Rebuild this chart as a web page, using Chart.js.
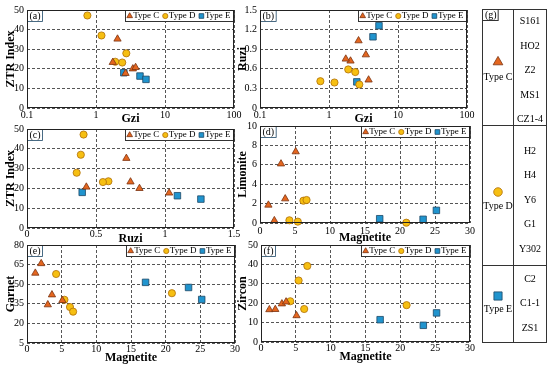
<!DOCTYPE html>
<html>
<head>
<meta charset="utf-8">
<script src="https://cdn.jsdelivr.net/npm/chart.js@4.4.0/dist/chart.umd.min.js"></script>
<style>
    html, body { margin: 0; padding: 0; background: #fff; }
    #wrap { position: relative; width: 550px; height: 366px; overflow: hidden; }
    canvas { position: absolute; }
</style>
</head>
<body>
<div id="wrap">
    <canvas id="pa"></canvas>
    <canvas id="pb"></canvas>
    <canvas id="pc"></canvas>
    <canvas id="pd"></canvas>
    <canvas id="pe"></canvas>
    <canvas id="pf"></canvas>
    <canvas id="pg" width="80" height="366" style="left:470px;top:0px"></canvas>
</div>
<script>
// samples of each type
var samplesC = ["S161", "HO2", "Z2", "MS1", "CZ1-4"];
var samplesD = ["H2", "H4", "Y6", "G1", "Y302"];
var samplesE = ["C2", "C1-1", "ZS1"];

// zircon indices, panels (a)-(c)
var gziC  = [2.05, 1.75, 2.68, 3.42, 3.75];
var ruziC = [0.72, 0.75, 1.03, 0.815, 0.43];
var ztrC  = [35.2, 23.3, 17.7, 20.0, 20.7];
var gziD  = [0.75, 1.2, 2.75, 1.9, 2.4];
var ruziD = [0.41, 0.39, 0.36, 0.59, 0.55];
var ztrD  = [47.2, 37.0, 27.9, 23.6, 23.2];
var gziE  = [2.53, 4.34, 5.3];
var ruziE = [0.40, 1.09, 1.26];
var ztrE  = [18.0, 16.3, 14.6];

// heavy minerals, panels (d)-(f)
var magC = [5.1, 3.0, 3.6, 1.2, 2.05];
var limC = [7.35, 6.1, 2.5, 1.85, 0.25];
var garC = [37.6, 34.3, 41.9, 58.5, 65.8];
var zirC = [13.6, 19.7, 20.7, 16.7, 16.8];
var magD = [4.2, 5.4, 6.2, 6.65, 20.9];
var limD = [0.28, 0.14, 2.3, 2.37, 0.03];
var garD = [57.8, 38.1, 32.5, 29.0, 43.1];
var zirD = [21.0, 31.7, 17.0, 39.2, 19.0];
var magE = [17.1, 23.3, 25.2];
var limE = [0.44, 0.38, 1.3];
var garE = [51.4, 47.5, 38.3];
var zirE = [11.5, 8.6, 15.0];

// tick labels
var gziTicks   = [0.1, 1, 10, 100];
var ztrTicks   = [0, 10, 20, 30, 40, 50];
var ruziTicks  = [0, 0.3, 0.6, 0.9, 1.2, 1.5];
var ruziXTicks = [0, 0.5, 1, 1.5];
var magTicks   = [0, 5, 10, 15, 20, 25, 30];
var limTicks   = [0, 2, 4, 6, 8, 10];
var garTicks   = [5, 20, 35, 50, 65, 80];
var zirTicks   = [0, 10, 20, 30, 40, 50];

var SERIF = "'Liberation Serif', 'Times New Roman', serif";

var typeStyle = {
    "Type C": { shape: "triangle", fill: "#E4661F", edge: "#7A3210", r: 4.2 },
    "Type D": { shape: "circle",   fill: "#F6BF12", edge: "#B06F08", r: 3.6 },
    "Type E": { shape: "rect",     fill: "#2094CE", edge: "#1D4766", r: 4.6 }
};

function drawMark(ctx, name, x, y, r) {
    var st = typeStyle[name];
    ctx.beginPath();
    if (st.shape === "triangle") {
        ctx.moveTo(x, y - r);
        ctx.lineTo(x + r * 0.866, y + r * 0.5);
        ctx.lineTo(x - r * 0.866, y + r * 0.5);
        ctx.closePath();
    } else if (st.shape === "rect") {
        var s = r * Math.SQRT1_2;
        ctx.rect(x - s, y - s, 2 * s, 2 * s);
    } else {
        ctx.arc(x, y, r, 0, Math.PI * 2);
    }
    ctx.fillStyle = st.fill;
    ctx.fill();
    ctx.lineWidth = 0.8;
    ctx.strokeStyle = st.edge;
    ctx.stroke();
}

// frame, panel tag and small legend inside each plot
var panelDecor = {
    id: "panelDecor",
    beforeDatasetsDraw: function (chart, args, opts) {
        var ctx = chart.ctx, a = chart.chartArea;
        ctx.save();
        ctx.font = "9px " + SERIF;
        ctx.textBaseline = "middle";
        ctx.textAlign = "left";
        var names = chart.data.datasets.map(function (d) { return d.label; });
        var bw = 2;
        names.forEach(function (n) { bw += 7 + ctx.measureText(n).width + 2.5; });
        var bh = 11, bx = a.right - bw, by = a.top;
        ctx.fillStyle = "#fff";
        ctx.fillRect(bx, by, bw, bh);
        ctx.strokeStyle = "#333";
        ctx.lineWidth = 1;
        ctx.strokeRect(Math.round(bx) + 0.5, by + 0.5, bw, bh);
        var x = bx + 1;
        names.forEach(function (n) {
            var st = typeStyle[n];
            drawMark(ctx, n, x + 3.5, by + bh / 2 + 0.5, st.shape === "circle" ? 2.6 : 3.3);
            ctx.fillStyle = "#000";
            ctx.fillText(n, x + 7, by + bh / 2 + 0.5);
            x += 7 + ctx.measureText(n).width + 2.5;
        });
        // tag like (a)
        ctx.font = "10px " + SERIF;
        var tw = ctx.measureText(opts.tag).width + 4;
        ctx.fillStyle = "#fff";
        ctx.fillRect(a.left, a.top, tw, bh);
        ctx.strokeRect(a.left + 0.5, a.top + 0.5, tw, bh);
        ctx.fillStyle = "#000";
        ctx.fillText(opts.tag, a.left + 2.5, a.top + bh / 2 + 1);
        ctx.restore();
    },
    afterDraw: function (chart) {
        var ctx = chart.ctx, a = chart.chartArea;
        ctx.save();
        ctx.strokeStyle = "#222";
        ctx.lineWidth = 1;
        ctx.strokeRect(a.left + 0.5, a.top + 0.5, a.right - a.left - 1, a.bottom - a.top - 1);
        ctx.restore();
    }
};

function series(name, xs, ys) {
    var st = typeStyle[name];
    return {
        label: name,
        data: xs.map(function (x, i) { return { x: x, y: ys[i] }; }),
        pointStyle: st.shape,
        pointRadius: st.r,
        pointHoverRadius: st.r,
        backgroundColor: st.fill,
        borderColor: st.edge,
        borderWidth: 0.8,
        clip: false
    };
}

function axis(ticks, log, title, titlePad, tickPad, fit) {
    return {
        type: log ? "logarithmic" : "linear",
        min: ticks[0],
        max: ticks[ticks.length - 1],
        afterBuildTicks: function (s) {
            s.ticks = ticks.map(function (v) { return { value: v }; });
        },
        afterFit: fit,
        grid: { color: "#555", lineWidth: 1, drawTicks: false },
        border: { display: false, dash: [3, 2] },
        ticks: {
            padding: tickPad,
            color: "#000",
            autoSkip: false,
            maxRotation: 0,
            font: { family: SERIF, size: 10 },
            callback: function (v) { return String(+(+v).toFixed(2)); }
        },
        title: {
            display: true,
            text: title,
            color: "#000",
            font: { family: SERIF, size: 12, weight: "bold" },
            padding: titlePad
        }
    };
}

function makePanel(id, tag, box, area, xa, ya, xs, ys) {
    var cv = document.getElementById(id);
    var L = box[0], T = box[1], W = box[2], H = box[3];
    cv.width = W;
    cv.height = H;
    cv.style.left = L + "px";
    cv.style.top = T + "px";
    var yW = area[0] - L, xH = T + H - area[3];
    new Chart(cv, {
        type: "scatter",
        data: {
            datasets: [
                series("Type C", xs[0], ys[0]),
                series("Type D", xs[1], ys[1]),
                series("Type E", xs[2], ys[2])
            ]
        },
        options: {
            responsive: false,
            animation: false,
            events: [],
            layout: { padding: { left: 0, top: area[1] - T, right: L + W - area[2], bottom: 0 } },
            plugins: {
                legend: { display: false },
                tooltip: { enabled: false },
                panelDecor: { tag: tag }
            },
            scales: {
                x: axis(xa.ticks, xa.log, xa.title, { top: 0, bottom: T + H - 7.2 - xa.titleY }, xa.pad,
                    function (s) { s.height = xH; }),
                y: axis(ya.ticks, false, ya.title, { top: ya.titleX - L - 7.2, bottom: 0 }, 3,
                    function (s) { s.width = yW; })
            }
        },
        plugins: [panelDecor]
    });
}

makePanel("pa", "(a)", [0, 0, 252, 128], [27, 10, 234, 108],
    { ticks: gziTicks, log: true, title: "Gzi", titleY: 118.5, pad: 1 },
    { ticks: ztrTicks, title: "ZTR Index", titleX: 11 },
    [gziC, gziD, gziE], [ztrC, ztrD, ztrE]);

makePanel("pb", "(b)", [229, 0, 262, 128], [260, 10, 467, 108],
    { ticks: gziTicks, log: true, title: "Gzi", titleY: 118.5, pad: 1 },
    { ticks: ruziTicks, title: "Ruzi", titleX: 243 },
    [gziC, gziD, gziE], [ruziC, ruziD, ruziE]);

makePanel("pc", "(c)", [0, 116, 252, 132], [27, 129, 234, 228],
    { ticks: ruziXTicks, title: "Ruzi", titleY: 238.5, pad: 0 },
    { ticks: ztrTicks, title: "ZTR Index", titleX: 11 },
    [ruziC, ruziD, ruziE], [ztrC, ztrD, ztrE]);

makePanel("pd", "(d)", [229, 116, 262, 132], [260, 126, 470, 223],
    { ticks: magTicks, title: "Magnetite", titleY: 238, pad: 2 },
    { ticks: limTicks, title: "Limonite", titleX: 243 },
    [magC, magD, magE], [limC, limD, limE]);

makePanel("pe", "(e)", [0, 236, 252, 130], [27, 244, 235, 343],
    { ticks: magTicks, title: "Magnetite", titleY: 357.5, pad: 0 },
    { ticks: garTicks, title: "Garnet", titleX: 11 },
    [magC, magD, magE], [garC, garD, garE]);

makePanel("pf", "(f)", [229, 236, 262, 130], [261, 243, 470, 342],
    { ticks: magTicks, title: "Magnetite", titleY: 357, pad: 0 },
    { ticks: zirTicks, title: "Zircon", titleX: 243 },
    [magC, magD, magE], [zirC, zirD, zirE]);

// key panel (g): types and their samples
(function () {
    var ctx = document.getElementById("pg").getContext("2d");
    ctx.translate(-470, 0);
    ctx.strokeStyle = "#333";
    ctx.lineWidth = 1;
    ctx.strokeRect(482.5, 9.5, 64, 333);
    ctx.beginPath();
    ctx.moveTo(513.5, 9.5); ctx.lineTo(513.5, 342.5);
    ctx.moveTo(482.5, 125.5); ctx.lineTo(546.5, 125.5);
    ctx.moveTo(482.5, 265.5); ctx.lineTo(546.5, 265.5);
    ctx.stroke();

    ctx.font = "10px " + SERIF;
    ctx.textBaseline = "middle";
    var tw = ctx.measureText("(g)").width + 4;
    ctx.strokeRect(482.5, 9.5, tw, 11);
    ctx.fillStyle = "#000";
    ctx.textAlign = "left";
    ctx.fillText("(g)", 485, 15.5);

    var groups = [
        { name: "Type C", samples: samplesC, markY: 62, textY: 77, firstY: 21.7, r: 5.6 },
        { name: "Type D", samples: samplesD, markY: 192, textY: 206, firstY: 151, r: 4.3 },
        { name: "Type E", samples: samplesE, markY: 296, textY: 309.5, firstY: 279.3, r: 5.8 }
    ];
    groups.forEach(function (g) {
        drawMark(ctx, g.name, 498, g.markY, g.r);
        ctx.fillStyle = "#000";
        ctx.textAlign = "center";
        ctx.fillText(g.name, 498, g.textY);
        g.samples.forEach(function (s, i) {
            ctx.fillText(s, 530, g.firstY + i * 24.5);
        });
    });
})();
</script>
</body>
</html>
